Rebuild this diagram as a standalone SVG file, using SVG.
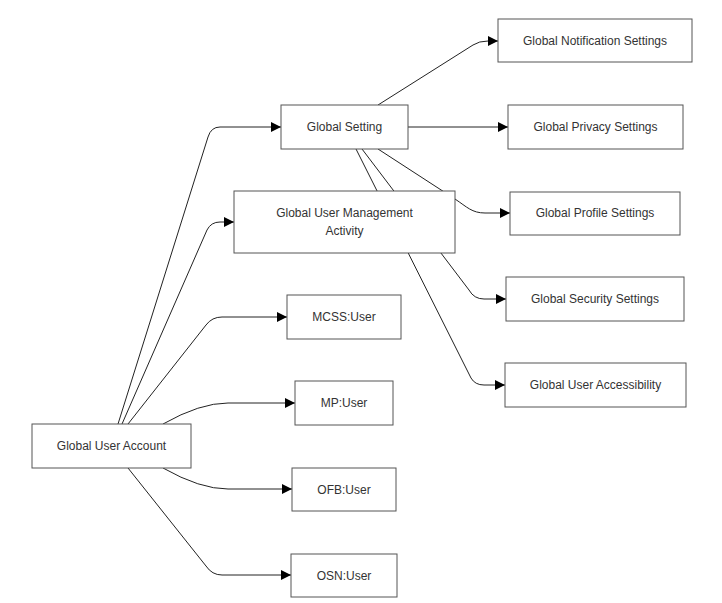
<svg xmlns="http://www.w3.org/2000/svg" width="722" height="603" viewBox="0 0 722 603">
<style>
.node rect{fill:#fff;stroke:#555;stroke-width:1}
.node text{font-family:"Liberation Sans",Arial,sans-serif;font-size:12px;fill:#333;text-anchor:middle;dominant-baseline:central}
#edges path{fill:none;stroke:#222;stroke-width:1;marker-end:url(#arr)}
</style>
<defs>
<marker id="arr" markerUnits="userSpaceOnUse" markerWidth="10" markerHeight="10" refX="10" refY="5" orient="auto">
<path d="M0,0 L10,5 L0,10 z" fill="#000"/>
</marker>
</defs>
<rect width="722" height="603" fill="#fff"/>
<g id="edges">
<path d="M118,424 L208,137 Q211,127 220,127 L281,127"/>
<path d="M122,424 L207,230 Q211,222 220,222 L234,222"/>
<path d="M128,424 L206,325 Q212,317 222,317 L287,317"/>
<path d="M163,424 Q200,403 228,403 L295,403"/>
<path d="M163,468 Q200,489 228,489 L292,489"/>
<path d="M128,468 L206,566 Q212,575 222,575 L291,575"/>
<path d="M378,105 L473,45 Q479,41 488,41 L498,41"/>
<path d="M408,127 L508,127"/>
<path d="M378,149 L455,199 C467,207 472,213 485,213 L510,213"/>
<path d="M362,149 L469,290 Q474,299 484,299 L506,299"/>
<path d="M356,149 L471,378 Q475,385 484,385 L505,385"/>
</g>
<g id="n-gua" class="node"><rect x="32" y="424" width="159" height="44"/><text x="111.5" y="446">Global User Account</text></g>
<g id="n-gs" class="node"><rect x="281" y="105" width="127" height="44"/><text x="344.5" y="127">Global Setting</text></g>
<g id="n-guma" class="node"><rect x="234" y="191" width="221" height="62"/><text x="344.5" y="213">Global User Management</text><text x="344.5" y="231">Activity</text></g>
<g id="n-gns" class="node"><rect x="498" y="19" width="194" height="43"/><text x="595" y="41">Global Notification Settings</text></g>
<g id="n-gps" class="node"><rect x="508" y="105" width="175" height="44"/><text x="595.5" y="127">Global Privacy Settings</text></g>
<g id="n-gprof" class="node"><rect x="510" y="192" width="170" height="43"/><text x="595" y="213">Global Profile Settings</text></g>
<g id="n-gss" class="node"><rect x="506" y="277" width="178" height="44"/><text x="595" y="299">Global Security Settings</text></g>
<g id="n-gua2" class="node"><rect x="505" y="363" width="181" height="44"/><text x="595.5" y="385">Global User Accessibility</text></g>
<g id="n-mcss" class="node"><rect x="287" y="295" width="114" height="44"/><text x="344" y="317">MCSS:User</text></g>
<g id="n-mp" class="node"><rect x="295" y="381" width="98" height="44"/><text x="344" y="403">MP:User</text></g>
<g id="n-ofb" class="node"><rect x="292" y="468" width="104" height="43"/><text x="344" y="489.5">OFB:User</text></g>
<g id="n-osn" class="node"><rect x="291" y="554" width="106" height="43"/><text x="344" y="575.5">OSN:User</text></g>
</svg>
